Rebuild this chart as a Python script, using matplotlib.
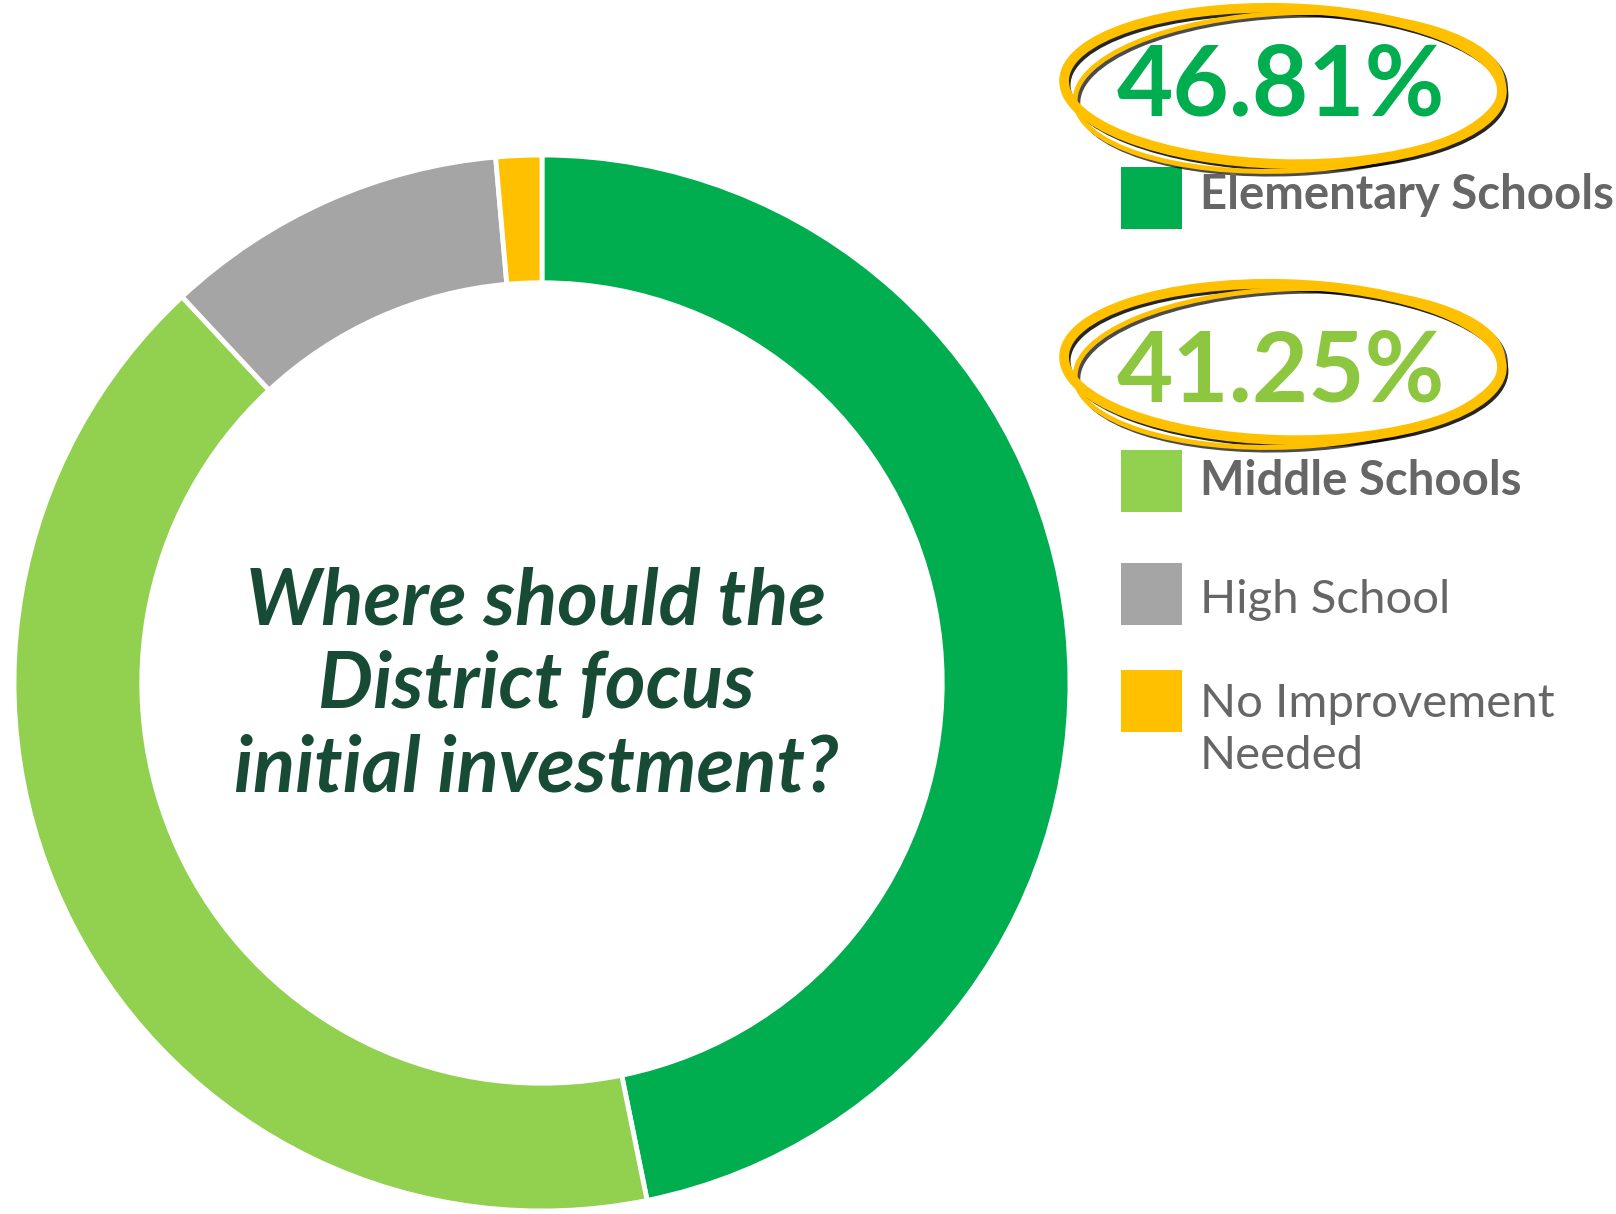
import matplotlib
matplotlib.use("Agg")
import matplotlib.pyplot as plt
from matplotlib.patches import Ellipse, Rectangle

categories = ["Elementary Schools", "Middle Schools", "High School", "No Improvement\nNeeded"]
values = [46.81, 41.25, 10.54, 1.40]
colors = ["#00AD4F", "#92D050", "#A5A5A5", "#FFC000"]
highlighted = ["46.81%", "41.25%"]
highlight_colors = ["#00AD4F", "#8DC63F"]
title = "Where should the\nDistrict focus\ninitial investment?"

W, H = 1616, 1214
fig = plt.figure(figsize=(W / 100, H / 100), dpi=100)

# donut
cx, cy, R = 542, 683, 528
ax = fig.add_axes([(cx - R) / W, (H - cy - R) / H, 2 * R / W, 2 * R / H])
ax.pie(values, colors=colors, startangle=90, counterclock=False, radius=1.0,
       wedgeprops=dict(width=0.242, edgecolor="white", linewidth=3.5))
ax.set_xlim(-1, 1)
ax.set_ylim(-1, 1)
ax.axis("off")

# overlay in pixel coordinates
ov = fig.add_axes([0, 0, 1, 1])
ov.set_xlim(0, W)
ov.set_ylim(H, 0)
ov.axis("off")

fam = ["Lato", "DejaVu Sans"]
ov.text(cx - 6, 686, title, ha="center", va="center", fontsize=56, fontweight="bold",
        fontstyle="italic", color="#174B36", family=fam, linespacing=1.2)

# legend
sq_y = [167, 450, 563, 670]
label_base = [209, 495, 613, 717]
weights = ["bold", "bold", "normal", "normal"]
for i, (lab, col) in enumerate(zip(categories, colors)):
    ov.add_patch(Rectangle((1121, sq_y[i]), 61, 62, facecolor=col, edgecolor="none"))
    ov.text(1200, label_base[i], lab.split("\n")[0], ha="left", va="baseline",
            fontsize=34, fontweight=weights[i], color="#666666", family=fam)
    if "\n" in lab:
        ov.text(1200, label_base[i] + 52, lab.split("\n")[1], ha="left", va="baseline",
                fontsize=34, fontweight=weights[i], color="#666666", family=fam)

# highlighted percentages with hand-drawn style ellipses
pct_base = [116, 402]
ell_cy = [86, 362]
for i, (txt, col) in enumerate(zip(highlighted, highlight_colors)):
    ecy = ell_cy[i]
    # shadows
    ov.add_patch(Ellipse((1286, ecy + 4), 438, 156, angle=1.5, fill=False,
                         edgecolor="black", linewidth=5, alpha=0.85, zorder=2))
    ov.add_patch(Ellipse((1292, ecy + 9), 428, 158, angle=-2.5, fill=False,
                         edgecolor="black", linewidth=3, alpha=0.7, zorder=2))
    # gold rings
    ov.add_patch(Ellipse((1283, ecy), 438, 156, angle=1.5, fill=False,
                         edgecolor="#FFC000", linewidth=7, zorder=3))
    ov.add_patch(Ellipse((1289, ecy + 6), 428, 158, angle=-2.5, fill=False,
                         edgecolor="#FFC000", linewidth=3.5, zorder=3))
    ov.text(1281, pct_base[i], txt, ha="center", va="baseline", fontsize=70,
            fontweight="bold", color=col, family=fam, zorder=4)

fig.savefig("out.png", dpi=100, facecolor="white")
